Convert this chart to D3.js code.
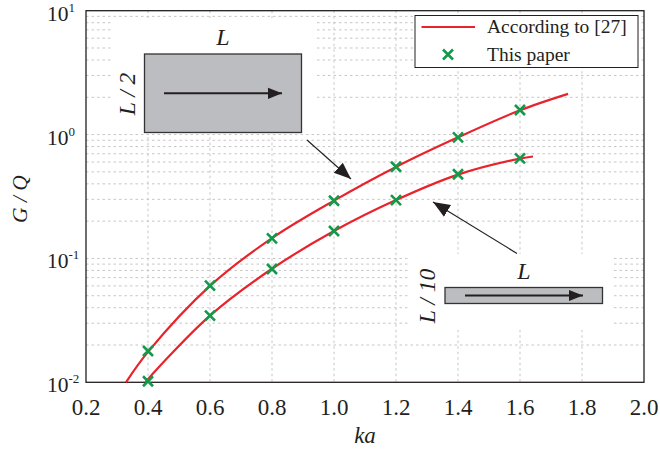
<!DOCTYPE html>
<html>
<head>
<meta charset="utf-8">
<script src="https://cdn.jsdelivr.net/npm/d3@7"></script>
<style>
  body { margin: 0; background: #fff; font-family: "Liberation Serif", "Times New Roman", Times, serif; }
</style>
</head>
<body>
<div id="chart"></div>
<script>
// x ticks and y decades
const xTicks = [0.2, 0.4, 0.6, 0.8, 1.0, 1.2, 1.4, 1.6, 1.8, 2.0];
const yDecades = [-2, -1, 0, 1];

// reference curves (According to [27])
const lineHalfKa = [0.329, 0.4, 0.6, 0.8, 1.0, 1.2, 1.4, 1.6, 1.755];
const lineHalfG = [0.0100, 0.0176, 0.0600, 0.146, 0.293, 0.548, 0.950, 1.57, 2.13];
const lineTenthKa = [0.392, 0.4, 0.6, 0.8, 1.0, 1.2, 1.4, 1.6, 1.642];
const lineTenthG = [0.0100, 0.0106, 0.0345, 0.0825, 0.1665, 0.296, 0.475, 0.640, 0.665];

// markers (This paper)
const markKa = [0.4, 0.6, 0.8, 1.0, 1.2, 1.4, 1.6];
const markHalfG = [0.0179, 0.0603, 0.1454, 0.292, 0.550, 0.950, 1.578];
const markTenthG = [0.0102, 0.0345, 0.0822, 0.1665, 0.296, 0.478, 0.643];

const legendLabels = ["According to [27]", "This paper"];

const width = 660, height = 449;
const margin = { left: 86, right: 16, top: 10.7, bottom: 66.7 };
const red = "#e8232b", green = "#13994a", gridCol = "#c6c6c6";
const serif = "'Liberation Serif', 'Times New Roman', Times, serif";

const svg = d3.select("#chart").append("svg")
    .attr("width", width).attr("height", height)
    .attr("font-family", serif).attr("fill", "#231f20");

const x = d3.scaleLinear().domain([0.2, 2.0]).range([margin.left, width - margin.right]);
const y = d3.scaleLog().domain([0.01, 10]).range([height - margin.bottom, margin.top]);

// grid
const grid = svg.append("g").attr("stroke", gridCol).attr("stroke-width", 1)
    .attr("stroke-dasharray", "2.5,3");
xTicks.slice(1, -1).forEach(t => {
    grid.append("line").attr("x1", x(t)).attr("x2", x(t))
        .attr("y1", y(10)).attr("y2", y(0.01));
});
yDecades.slice(0, -1).forEach(d => {
    for (let m = 1; m <= 9; m++) {
        if (d === -2 && m === 1) continue;
        const v = m * Math.pow(10, d);
        grid.append("line").attr("x1", x(0.2)).attr("x2", x(2.0))
            .attr("y1", y(v)).attr("y2", y(v));
    }
});

// white backgrounds for insets
svg.append("rect").attr("x", 111).attr("y", 18).attr("width", 204).attr("height", 116).attr("fill", "#fff");
svg.append("rect").attr("x", 408).attr("y", 254).attr("width", 204).attr("height", 76).attr("fill", "#fff");

// axes frame
svg.append("rect").attr("x", x(0.2)).attr("y", y(10))
    .attr("width", x(2.0) - x(0.2)).attr("height", y(0.01) - y(10))
    .attr("fill", "none").attr("stroke", "#231f20").attr("stroke-width", 1.3);

// x tick labels
svg.append("g").selectAll("text").data(xTicks).join("text")
    .attr("x", d => x(d)).attr("y", 415).attr("text-anchor", "middle")
    .attr("font-size", 23).text(d => d.toFixed(1));

// y tick labels
yDecades.forEach(d => {
    const t = svg.append("text").attr("x", 47).attr("y", y(Math.pow(10, d)) + 10)
        .attr("font-size", 21.5);
    t.append("tspan").text("10");
    t.append("tspan").attr("dy", -9).attr("font-size", 13).text(d);
});

// axis titles
svg.append("text").attr("x", x(1.1)).attr("y", 443).attr("text-anchor", "middle")
    .attr("font-size", 23).attr("font-style", "italic").text("ka");
svg.append("text").attr("transform", "translate(27,199) rotate(-90)")
    .attr("text-anchor", "middle").attr("font-size", 21.5).attr("font-style", "italic")
    .text("G / Q");

// curves
const line = d3.line().x(d => x(d[0])).y(d => y(d[1])).curve(d3.curveCatmullRom.alpha(0.5));
[[lineHalfKa, lineHalfG], [lineTenthKa, lineTenthG]].forEach(([ks, gs]) => {
    svg.append("path").datum(ks.map((k, i) => [k, gs[i]]))
        .attr("d", line).attr("fill", "none").attr("stroke", red).attr("stroke-width", 2.2);
});

// markers
function cross(g, cx, cy, s) {
    g.append("path").attr("d", `M${cx - s},${cy - s}L${cx + s},${cy + s}M${cx - s},${cy + s}L${cx + s},${cy - s}`)
        .attr("stroke", green).attr("stroke-width", 2.6).attr("fill", "none");
}
const mk = svg.append("g");
markKa.forEach((k, i) => {
    cross(mk, x(k), y(markHalfG[i]), 5);
    cross(mk, x(k), y(markTenthG[i]), 5);
});

// arrow markers
const defs = svg.append("defs");
defs.append("marker").attr("id", "ah").attr("viewBox", "0 0 10 10")
    .attr("refX", 10).attr("refY", 5).attr("markerWidth", 14).attr("markerHeight", 14)
    .attr("markerUnits", "userSpaceOnUse").attr("orient", "auto")
    .append("path").attr("d", "M0,1L10,5L0,9z").attr("fill", "#231f20");
defs.append("marker").attr("id", "ah2").attr("viewBox", "0 0 10 10")
    .attr("refX", 10).attr("refY", 5).attr("markerWidth", 17).attr("markerHeight", 17)
    .attr("markerUnits", "userSpaceOnUse").attr("orient", "auto")
    .append("path").attr("d", "M0,1L10,5L0,9z").attr("fill", "#231f20");

// inset L/2
svg.append("rect").attr("x", 144.5).attr("y", 54).attr("width", 157).attr("height", 78.5)
    .attr("fill", "#bcbdc0").attr("stroke", "#333").attr("stroke-width", 1.3);
svg.append("line").attr("x1", 164).attr("y1", 93.3).attr("x2", 282).attr("y2", 93.3)
    .attr("stroke", "#231f20").attr("stroke-width", 2).attr("marker-end", "url(#ah)");
svg.append("text").attr("x", 223).attr("y", 45).attr("text-anchor", "middle")
    .attr("font-size", 24).attr("font-style", "italic").text("L");
svg.append("text").attr("transform", "translate(135,94) rotate(-90)")
    .attr("text-anchor", "middle").attr("font-size", 23.5).attr("font-style", "italic").text("L / 2");

// inset L/10
svg.append("rect").attr("x", 445).attr("y", 287.5).attr("width", 157.5).attr("height", 16)
    .attr("fill", "#bcbdc0").attr("stroke", "#333").attr("stroke-width", 1.3);
svg.append("line").attr("x1", 465).attr("y1", 295.5).attr("x2", 583).attr("y2", 295.5)
    .attr("stroke", "#231f20").attr("stroke-width", 2).attr("marker-end", "url(#ah)");
svg.append("text").attr("x", 524).attr("y", 278.5).attr("text-anchor", "middle")
    .attr("font-size", 24).attr("font-style", "italic").text("L");
svg.append("text").attr("transform", "translate(435,296) rotate(-90)")
    .attr("text-anchor", "middle").attr("font-size", 23.5).attr("font-style", "italic").text("L / 10");

// pointer arrows
svg.append("line").attr("x1", 307).attr("y1", 140).attr("x2", 351).attr("y2", 179)
    .attr("stroke", "#231f20").attr("stroke-width", 1.1).attr("marker-end", "url(#ah2)");
svg.append("line").attr("x1", 517).attr("y1", 253.5).attr("x2", 433).attr("y2", 202)
    .attr("stroke", "#231f20").attr("stroke-width", 1.1).attr("marker-end", "url(#ah2)");

// legend
const lg = svg.append("g");
lg.append("rect").attr("x", 415).attr("y", 15.5).attr("width", 223).attr("height", 52)
    .attr("fill", "#fff").attr("stroke", "#231f20").attr("stroke-width", 1);
lg.append("line").attr("x1", 421.5).attr("x2", 475).attr("y1", 27).attr("y2", 27)
    .attr("stroke", red).attr("stroke-width", 2.2);
cross(lg, 448, 54.5, 5);
lg.selectAll("text").data(legendLabels).join("text")
    .attr("x", 487).attr("y", (d, i) => 33 + i * 27.5).attr("font-size", 19.5).text(d => d);
</script>
</body>
</html>
